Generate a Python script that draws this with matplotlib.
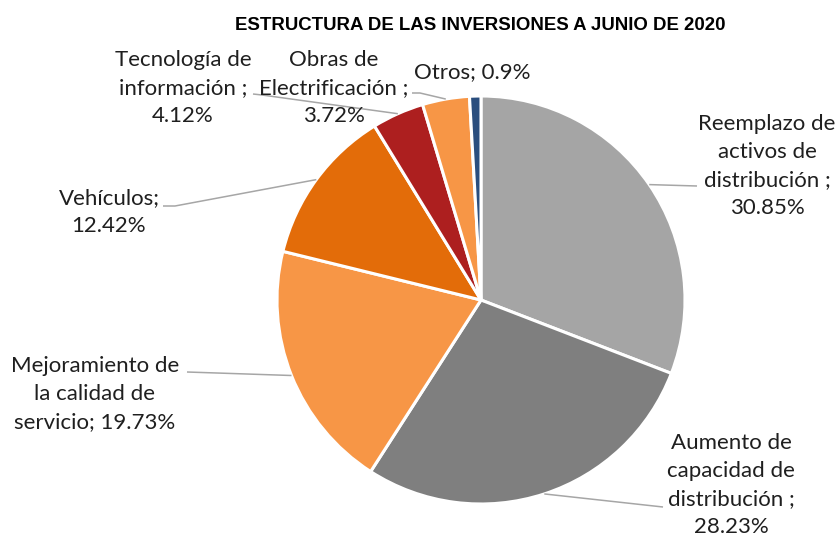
import matplotlib
matplotlib.use("Agg")
import matplotlib.pyplot as plt
import numpy as np

title = "ESTRUCTURA DE LAS INVERSIONES A JUNIO DE 2020"
labels = [
    "Reemplazo de\nactivos de\ndistribución ;\n30.85%",
    "Aumento de\ncapacidad de\ndistribución ;\n28.23%",
    "Mejoramiento de\nla calidad de\nservicio; 19.73%",
    "Vehículos;\n12.42%",
    "Tecnología de\ninformación ;\n4.12%",
    "Obras de\nElectrificación ;\n3.72%",
    "Otros; 0.9%",
]
values = [30.85, 28.23, 19.73, 12.42, 4.12, 3.72, 0.9]
colors = ["#A5A5A5", "#7F7F7F", "#F79646", "#E36C09", "#AD1F1F", "#F79646", "#2A4E7E"]

W, H = 836, 538
fig = plt.figure(figsize=(W / 100, H / 100), dpi=100)
ax = fig.add_axes([0, 0, 1, 1])


def P(x, y):
    """pixel (top-left origin) -> data coords"""
    return x, H - y


cx, cy = P(481, 300)
R = 204
wedges, _ = ax.pie(values, colors=colors, startangle=90, counterclock=False,
                   center=(cx, cy), radius=R, frame=True,
                   wedgeprops=dict(edgecolor="white", linewidth=2.2))
ax.set_xlim(0, W)
ax.set_ylim(0, H)
ax.set_aspect("equal")
ax.axis("off")

font = "Lato"
fs = 16
label_pos = [(767, 166), (731, 485), (95, 394), (109, 212), (183, 88), (334, 88), (472, 72)]
leader_end = [[(697, 186)], [(663, 507)], [(187, 372)], [(175, 206), (163, 206)],
              [(262, 95), (253, 94)], [(420, 93), (412, 93)], None]

for w, lab, pos, le in zip(wedges, labels, label_pos, leader_end):
    tx, ty = P(*pos)
    ax.text(tx, ty, lab, ha="center", va="center", fontsize=fs,
            family=font, color="#1F1F1F", linespacing=1.5)
    if le is None:
        continue
    mid = np.deg2rad((w.theta1 + w.theta2) / 2)
    start = (cx + R * np.cos(mid), cy + R * np.sin(mid))
    pts = [start] + [P(*p) for p in le]
    ax.plot([p[0] for p in pts], [p[1] for p in pts], color="#A6A6A6",
            lw=1.1, solid_capstyle="butt")

tx, ty = P(480, 30)
ax.text(tx, ty, title, ha="center", va="baseline", fontsize=13.4,
        family="Liberation Sans", fontweight="bold", color="black")

fig.savefig("out.png", dpi=100)
